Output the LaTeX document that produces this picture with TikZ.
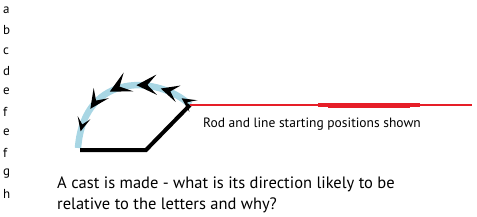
\documentclass[tikz,border=0pt]{standalone}
\usepackage{fontspec}
\setmainfont{PT Sans}
\usetikzlibrary{arrows.meta, decorations.markings}
\definecolor{rodred}{RGB}{230, 30, 40}
\definecolor{castblue}{RGB}{168, 214, 228}

\begin{document}
\begin{tikzpicture}[x=1pt, y=-1pt,
  letter/.style={anchor=west, inner sep=0pt, font=\fontsize{13}{15}\selectfont},
  rod/.style={rodred, line width=#1},
  cast/.style={castblue, line width=6.5pt,
    postaction={decorate, decoration={markings,
      mark=at position 0.07 with {\arrow[black]{Stealth[length=14pt, width=14pt, inset=7pt]}},
      mark=at position 0.22 with {\arrow[black]{Stealth[length=18pt, width=17pt, inset=8pt]}},
      mark=at position 0.38 with {\arrow[black]{Stealth[length=20pt, width=20pt, inset=9pt]}},
      mark=at position 0.56 with {\arrow[black]{Stealth[length=21pt, width=21pt, inset=10pt]}},
      mark=at position 0.73 with {\arrow[black]{Stealth[length=19pt, width=18pt, inset=9pt]}},
      mark=at position 0.89 with {\arrow[black]{Stealth[length=14pt, width=13pt, inset=7pt]}}}}},
  txt/.style={anchor=west, inner sep=0pt, align=left}
]
\useasboundingbox (0,0) rectangle (477,217);

% letters down the side
\foreach \l [count=\i] in {a,b,c,d,e,f,e,f,g,h}
  \node[letter] (l\i) at (3, {10+20.4*(\i-1)}) {\l};

% the cast
\coordinate (tip)  at (190,105);
\coordinate (bend) at (146,150);
\coordinate (butt) at (80,150);
\draw[cast] (tip) .. controls (160,76) and (84,70) .. (78,148);
\draw[line width=4pt] (tip) -- (bend) -- (butt);

% rod and line
\coordinate (lineend) at (472,105);
\draw[rod=2pt] (tip) -- (lineend);
\draw[rod=3.5pt] (318,105) -- (420,105);
\draw[rod=5pt] (328,105) -- (410,105);

\node[txt, font=\fontsize{13.5}{16}\selectfont] (label) at (203,124) {Rod and line starting positions shown};
\node[txt, font=\fontsize{16.5}{21}\selectfont, anchor=north west] (question) at (57,177)
  {A cast is made - what is its direction likely to be\\relative to the letters and why?};
\end{tikzpicture}
\end{document}
